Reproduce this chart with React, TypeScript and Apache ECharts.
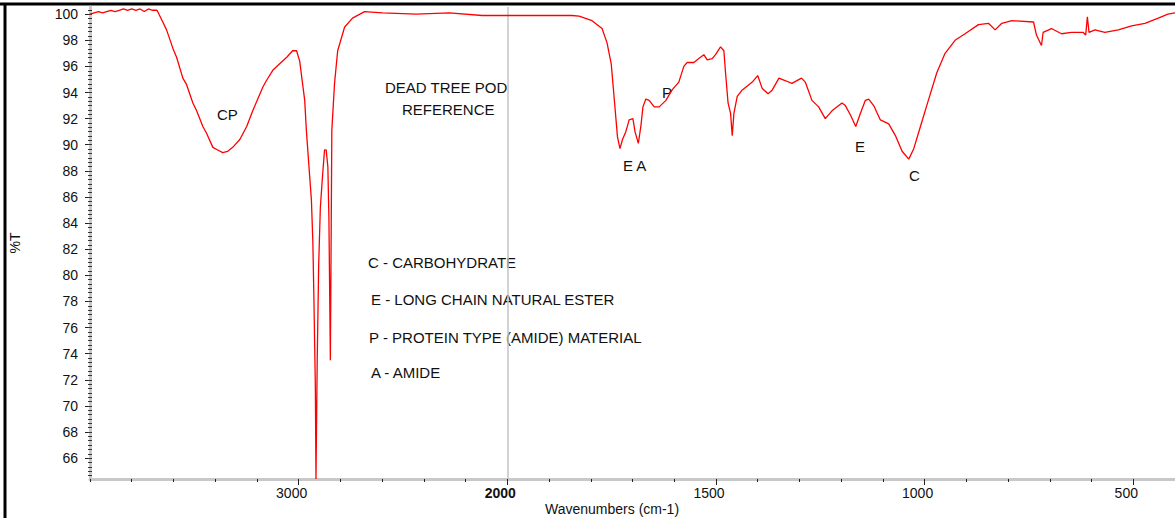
import React, { useEffect, useRef } from "react";
import * as echarts from "echarts";

// FTIR spectrum: wavenumber (cm-1) and %T
const wavenumbers = [
  4000, 3980, 3960, 3940, 3920, 3900, 3880, 3860, 3840, 3820, 3800, 3780, 3760, 3740, 3720, 3700,
  3679, 3651, 3633, 3603, 3585, 3555, 3537, 3507, 3489, 3459, 3442, 3411, 3388, 3364, 3340, 3316,
  3282, 3249, 3220, 3172, 3155, 3124, 3091, 3057, 3029, 3010, 2995,
  2971, 2963, 2955, 2939, 2932, 2927, 2920, 2917, 2911, 2904, 2896, 2887, 2876, 2868, 2860, 2855,
  2848, 2844, 2841, 2828, 2813, 2780, 2742, 2684, 2598, 2437, 2278, 2120, 2000, 1940, 1845, 1828,
  1797, 1773, 1761, 1751, 1744, 1736, 1730, 1724, 1716, 1708, 1699, 1694, 1686, 1680, 1675, 1668,
  1660, 1648, 1636, 1620, 1605, 1589, 1577, 1569, 1553, 1541, 1529, 1521, 1509, 1501, 1489, 1481,
  1477, 1471, 1465, 1461, 1457, 1449, 1437, 1421, 1413, 1400, 1389, 1375, 1365, 1349, 1333, 1318,
  1295, 1286, 1270, 1254, 1238, 1222, 1198, 1190, 1178, 1165, 1154, 1142, 1134, 1122, 1106, 1086,
  1070, 1054, 1038, 1026, 1010, 992, 971, 951, 927, 903, 871, 847, 831, 815, 791, 739,
  732, 720, 716, 696, 672, 648, 620, 614, 610, 606, 592, 568, 536, 504, 472, 440,
  417, 400,
];
const transmittance = [
  100.0, 100.1, 100.2, 100.1, 100.2, 100.3, 100.2, 100.3, 100.4, 100.3, 100.4, 100.3, 100.4, 100.2, 100.4, 100.3,
  100.3, 99.4, 98.8, 97.4, 96.7, 95.1, 94.6, 93.2, 92.6, 91.4, 90.9, 89.8, 89.6, 89.4, 89.5, 89.8,
  90.4, 91.4, 92.6, 94.4, 94.9, 95.7, 96.2, 96.7, 97.2, 97.2, 96.4,
  93.4, 91.1, 89.3, 85.8, 82.6, 78.3, 71.5, 64.4, 73.5, 80.8, 85.2, 87.3, 89.6, 89.6, 88.3, 84.4,
  73.5, 83.5, 91.1, 94.7, 97.2, 99.0, 99.7, 100.2, 100.1, 100.0, 100.1, 99.9, 99.9, 99.9, 99.9, 99.85,
  99.5, 98.9, 97.8, 96.2, 93.6, 90.6, 89.7, 90.4, 91.0, 91.9, 92.0, 91.0, 90.1, 91.4, 92.9, 93.5,
  93.4, 92.9, 92.9, 93.4, 94.2, 94.8, 96.0, 96.3, 96.3, 96.6, 96.9, 96.5, 96.6, 96.9, 97.5, 97.2,
  95.5, 93.2, 92.4, 90.7, 92.4, 93.7, 94.2, 94.6, 94.8, 95.3, 94.3, 93.9, 94.2, 95.1, 94.9, 94.7,
  95.1, 94.8, 93.4, 92.9, 92.0, 92.6, 93.2, 93.0, 92.3, 91.4, 92.4, 93.4, 93.5, 93.0, 91.9, 91.6,
  90.7, 89.5, 88.9, 89.7, 91.4, 93.3, 95.5, 97.0, 98.0, 98.5, 99.2, 99.3, 98.8, 99.3, 99.5, 99.4,
  98.4, 97.6, 98.6, 98.9, 98.5, 98.6, 98.6, 98.4, 99.8, 98.6, 98.8, 98.6, 98.8, 99.1, 99.3, 99.7,
  100.0, 100.1,
];

const xTickWavenumbers = [3000, 2000, 1500, 1000, 500];
const yTickLabels = [66, 68, 70, 72, 74, 76, 78, 80, 82, 84, 86, 88, 90, 92, 94, 96, 98, 100];

const titleLines = ["DEAD TREE POD", "REFERENCE"];
const legendLines = [
  "C - CARBOHYDRATE",
  "E - LONG CHAIN NATURAL ESTER",
  "P - PROTEIN TYPE (AMIDE) MATERIAL",
  "A - AMIDE",
];
const peakLabels = ["CP", "E A", "P", "E", "C"];

// split axis: 4000-2000 at scale 1, 2000-400 expanded 2x
const toAxis = (w: number) => (w >= 2000 ? 4000 - w : 2000 + 2 * (2000 - w));
const fromAxis = (u: number) => (u <= 2000 ? 4000 - u : 2000 - (u - 2000) / 2);

const FONT = "'Liberation Sans', Arial, sans-serif";

export default function App() {
  const ref = useRef<HTMLDivElement>(null);

  useEffect(() => {
    if (!ref.current) return;
    const chart = echarts.init(ref.current, undefined, { renderer: "svg" });

    const data = wavenumbers.map((w, i) => [toAxis(w), transmittance[i]]);
    const yMin = 64.4;
    const yMax = 100.55;
    const minorY: number[] = [];
    for (let k = 0; k <= 200; k++) {
      const v = 64 + k / 3;
      if (v > yMin && v < yMax) minorY.push(v);
    }
    const majorX = xTickWavenumbers.map(toAxis);

    const textStyle = (text: string, x: number, y: number, size = 15) => ({
      type: "text",
      x,
      y,
      silent: true,
      style: {
        text,
        fill: "#111",
        fontSize: size,
        fontFamily: FONT,
        align: "left",
        verticalAlign: "middle",
      },
    });

    const legendPos = [
      [368, 262],
      [371, 299],
      [369, 337],
      [371, 372],
    ];
    const peakPos = [
      [217, 114],
      [623, 165],
      [662, 92],
      [855, 146],
      [909, 175],
    ];

    chart.setOption({
      animation: false,
      backgroundColor: "#fff",
      textStyle: { fontFamily: FONT },
      grid: { left: 90, right: -2, top: 7, bottom: 39, containLabel: false },
      xAxis: [
        {
          type: "value",
          min: 0,
          max: 5200,
          position: "bottom",
          axisLine: { show: true, lineStyle: { color: "#c8c8c8", width: 3 } },
          axisTick: {
            show: true,
            customValues: majorX,
            length: 6,
            lineStyle: { color: "#222", width: 1 },
          },
          axisLabel: {
            show: true,
            customValues: majorX,
            margin: 7,
            padding: [0, 14, 0, 0],
            color: "#111",
            fontSize: 14,
            fontFamily: FONT,
            formatter: (u: number) => {
              const w = Math.round(fromAxis(u));
              return w === 2000 ? "{b|2000}" : String(w);
            },
            rich: { b: { fontWeight: "bold", fontSize: 14, fontFamily: FONT, color: "#111" } },
          },
          splitLine: { show: false },
        },
        {
          type: "value",
          min: 0,
          max: 5200,
          interval: 200,
          position: "bottom",
          axisLine: { show: false },
          axisTick: { show: true, length: 3, lineStyle: { color: "#222", width: 1 } },
          axisLabel: { show: false },
          splitLine: { show: false },
        },
      ],
      yAxis: [
        {
          type: "value",
          min: yMin,
          max: yMax,
          position: "left",
          name: "%T",
          nameLocation: "middle",
          nameGap: 68,
          nameRotate: 90,
          nameTextStyle: { color: "#111", fontSize: 14, fontFamily: FONT },
          axisLine: { show: true, lineStyle: { color: "#c8c8c8", width: 3 } },
          axisTick: {
            show: true,
            customValues: yTickLabels,
            length: 5,
            lineStyle: { color: "#222", width: 1 },
          },
          axisLabel: {
            show: true,
            customValues: yTickLabels,
            margin: 12,
            color: "#111",
            fontSize: 14,
            fontFamily: FONT,
          },
          splitLine: { show: false },
        },
        {
          type: "value",
          min: yMin,
          max: yMax,
          position: "left",
          offset: -2,
          axisLine: { show: false },
          axisTick: {
            show: true,
            customValues: minorY,
            length: 4,
            lineStyle: { color: "#333", width: 1 },
          },
          axisLabel: { show: false },
          splitLine: { show: false },
        },
      ],
      series: [
        {
          type: "line",
          xAxisIndex: 0,
          yAxisIndex: 0,
          data,
          showSymbol: false,
          symbol: "none",
          lineStyle: { color: "#ff0000", width: 1.3 },
          z: 3,
          markLine: {
            silent: true,
            symbol: "none",
            label: { show: false },
            lineStyle: { color: "#c4c4c4", width: 1.5, type: "solid" },
            data: [{ xAxis: toAxis(2000) }],
            z: 1,
          },
        },
      ],
      graphic: [
        {
          type: "line",
          silent: true,
          shape: { x1: 0, y1: 4, x2: 1175, y2: 4 },
          style: { stroke: "#000", lineWidth: 3 },
        },
        {
          type: "line",
          silent: true,
          shape: { x1: 5, y1: 3, x2: 5, y2: 518 },
          style: { stroke: "#000", lineWidth: 3 },
        },
        textStyle(titleLines[0], 385, 87),
        textStyle(titleLines[1], 402, 109),
        ...legendLines.map((t, i) => textStyle(t, legendPos[i][0], legendPos[i][1])),
        ...peakLabels.map((t, i) => textStyle(t, peakPos[i][0], peakPos[i][1])),
        textStyle("Wavenumbers (cm-1)", 545, 509, 14),
      ],
    });

    return () => chart.dispose();
  }, []);

  return (
    <div
      ref={ref}
      style={{ position: "fixed", left: 0, top: 0, width: 1175, height: 518, background: "#fff" }}
    />
  );
}
